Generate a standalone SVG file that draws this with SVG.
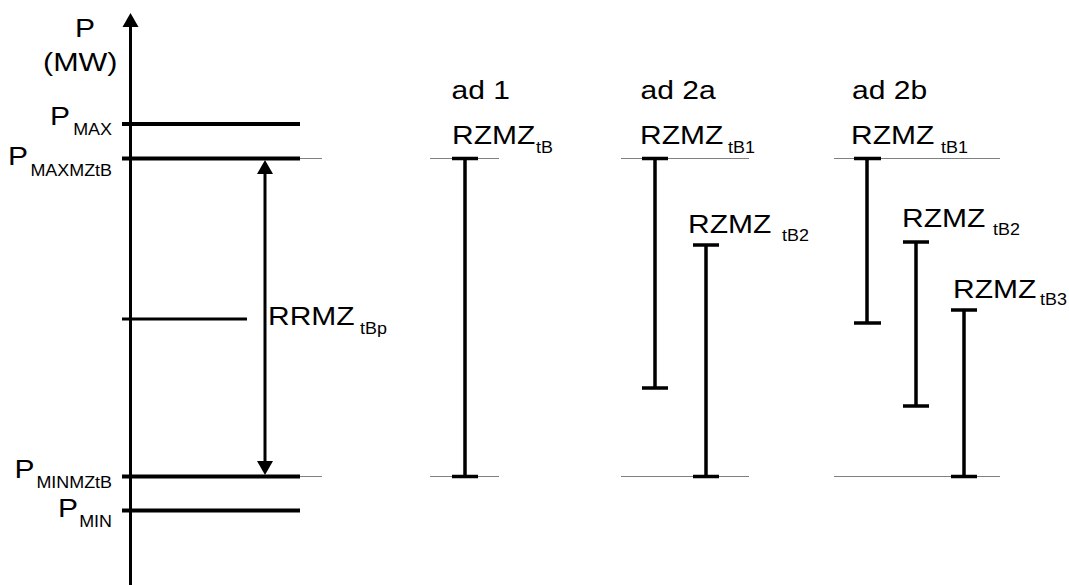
<svg xmlns="http://www.w3.org/2000/svg" width="1069" height="585" viewBox="0 0 1069 585">
<defs>
<style>
text{font-family:"Liberation Sans",Arial,sans-serif;fill:#000}
.m{font-size:25px}
.s{font-size:16px}
.thick{stroke:#000;stroke-width:4;fill:none}
.bar{stroke:#000;stroke-width:3.5;fill:none}
.thin{stroke:#808080;stroke-width:1;fill:none}
.ax{stroke:#000;stroke-width:3;fill:none}
</style>
<marker id="ah" markerUnits="userSpaceOnUse" markerWidth="16" markerHeight="18" refX="0" refY="8" orient="auto-start-reverse" viewBox="0 0 16 18" overflow="visible">
<path d="M0,0 L14,8 L0,16 z" fill="#000"/>
</marker>
</defs>
<rect width="1069" height="585" fill="#fff"/>

<g id="axis">
<line class="ax" x1="130.5" y1="585" x2="130.5" y2="27" marker-end="url(#ah)"/>
<text class="m" transform="translate(75,37) scale(1.2,1)">P</text>
<text class="m" transform="translate(43,71) scale(1.22,1)">(MW)</text>
</g>

<g id="pmax">
<line class="thick" x1="122" y1="124" x2="300" y2="124"/>
<text class="m" transform="translate(50,125) scale(1.2,1)">P</text>
<text class="s" text-anchor="end" transform="translate(112,135) scale(1.12,1)">MAX</text>
</g>

<g id="pmaxmztb">
<line class="thick" x1="122" y1="158.5" x2="300" y2="158.5"/>
<line class="thin" x1="300" y1="158.5" x2="322" y2="158.5"/>
<text class="m" transform="translate(8,165) scale(1.2,1)">P</text>
<text class="s" text-anchor="end" transform="translate(112,176) scale(1.12,1)">MAXMZtB</text>
</g>

<g id="pmid">
<line class="ax" x1="122" y1="319" x2="247" y2="319"/>
</g>

<g id="pminmztb">
<line class="thick" x1="122" y1="476.5" x2="300" y2="476.5"/>
<line class="thin" x1="300" y1="476.5" x2="322" y2="476.5"/>
<text class="m" transform="translate(14.5,478) scale(1.2,1)">P</text>
<text class="s" text-anchor="end" transform="translate(112,488) scale(1.12,1)">MINMZtB</text>
</g>

<g id="pmin">
<line class="thick" x1="122" y1="510.5" x2="300" y2="510.5"/>
<text class="m" transform="translate(58,517) scale(1.2,1)">P</text>
<text class="s" text-anchor="end" transform="translate(112,527) scale(1.12,1)">MIN</text>
</g>

<g id="connectors">
<line class="ax" x1="265" y1="174" x2="265" y2="461" marker-start="url(#ah)" marker-end="url(#ah)"/>
</g>

<g id="rrmz">
<text class="m" transform="translate(268,325) scale(1.2,1)">RRMZ</text>
<text class="s" transform="translate(360,334) scale(1.12,1)">tBp</text>
</g>

<g id="ad1">
<text class="m" transform="translate(451.5,99) scale(1.2,1)">ad 1</text>
<line class="thin" x1="430" y1="158.5" x2="499" y2="158.5"/>
<line class="thin" x1="430" y1="476.5" x2="499" y2="476.5"/>
<text class="m" transform="translate(452,144) scale(1.2,1)">RZMZ</text>
<text class="s" transform="translate(536,153) scale(1.12,1)">tB</text>
<path class="bar" d="M465,158.5V476.5M452,158.5H478M452,476.5H478"/>
</g>

<g id="ad2a">
<text class="m" transform="translate(640.5,99) scale(1.2,1)">ad 2a</text>
<line class="thin" x1="621" y1="158.5" x2="749" y2="158.5"/>
<line class="thin" x1="621" y1="476.5" x2="749" y2="476.5"/>
<g id="ad2a-b1">
<text class="m" transform="translate(640,144) scale(1.2,1)">RZMZ</text>
<text class="s" transform="translate(728,153) scale(1.12,1)">tB1</text>
<path class="bar" d="M655,158.5V388M642,158.5H668M642,388H668"/>
</g>
<g id="ad2a-b2">
<text class="m" transform="translate(688,233) scale(1.2,1)">RZMZ</text>
<text class="s" transform="translate(782,241) scale(1.12,1)">tB2</text>
<path class="bar" d="M706,245V476.5M693,245H719M693,476.5H719"/>
</g>
</g>

<g id="ad2b">
<text class="m" transform="translate(852,99) scale(1.2,1)">ad 2b</text>
<line class="thin" x1="834" y1="158.5" x2="1000" y2="158.5"/>
<line class="thin" x1="834" y1="476.5" x2="1000" y2="476.5"/>
<g id="ad2b-b1">
<text class="m" transform="translate(851,144) scale(1.2,1)">RZMZ</text>
<text class="s" transform="translate(941,153) scale(1.12,1)">tB1</text>
<path class="bar" d="M867,158.5V323M854,158.5H881M854,323H881"/>
</g>
<g id="ad2b-b2">
<text class="m" transform="translate(902,227) scale(1.2,1)">RZMZ</text>
<text class="s" transform="translate(993,235) scale(1.12,1)">tB2</text>
<path class="bar" d="M916,242V406M903,242H929M903,406H929"/>
</g>
<g id="ad2b-b3">
<text class="m" transform="translate(953,298) scale(1.2,1)">RZMZ</text>
<text class="s" transform="translate(1040,305) scale(1.12,1)">tB3</text>
<path class="bar" d="M964,310V476.5M951,310H977M951,476.5H977"/>
</g>
</g>
</svg>
